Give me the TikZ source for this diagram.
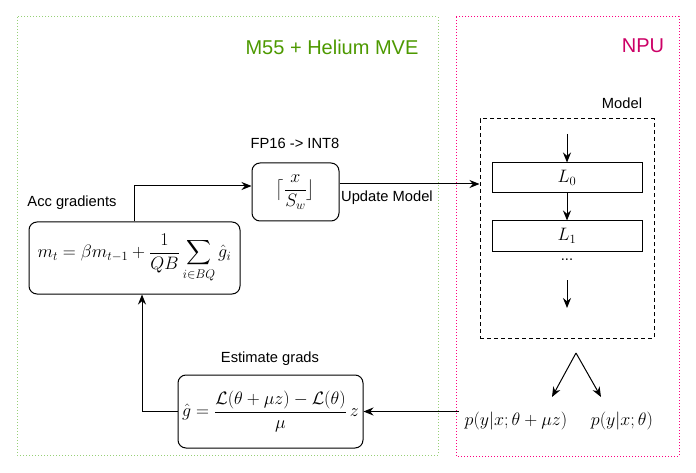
\RequirePackage{fix-cm}
\documentclass[tikz,border=0pt]{standalone}
\usepackage{amsmath}
\usepackage[no-math]{fontspec}
\setmainfont{Liberation Sans}
\usetikzlibrary{arrows.meta}
\definecolor{mvegreen}{HTML}{4D9900}
\definecolor{mveedge}{HTML}{97D077}
\definecolor{npupink}{HTML}{CC0066}
\definecolor{npuedge}{HTML}{FF0080}

\begin{document}
\begin{tikzpicture}[
  x=1pt,
  y=-1pt,
  every node/.style={font=\fontsize{14.7}{17}\selectfont, inner sep=0pt},
  mathtext/.style={font=\fontsize{18}{21}\selectfont},
  formbox/.style={draw, line width=1pt, rounded corners=8pt, mathtext},
  layerbox/.style={draw, line width=1pt, minimum width=150pt, minimum height=30pt, mathtext},
  arr/.style={-{Stealth[length=10pt,width=8pt]}, line width=1pt}
]
  \useasboundingbox (0,0) rectangle (696,473);

  % regions
  \draw[mveedge, line width=1pt, dash pattern=on 1pt off 2pt] (17,17) rectangle (438,455);
  \draw[npuedge, line width=1pt, dash pattern=on 1pt off 2pt] (456,17) rectangle (679,456);
  \node[mvegreen, font=\fontsize{20}{24}\selectfont] (mvetitle) at (332,47) {M55 + Helium MVE};
  \node[npupink, font=\fontsize{20}{24}\selectfont] (nputitle) at (643,46) {NPU};

  % host side
  \node[formbox, minimum width=211pt, minimum height=72pt] (acc) at (134.5,258)
    {$\displaystyle m_t=\beta m_{t-1}+\frac{1}{QB}\sum_{i\in BQ}\hat{g}_i$};
  \node (acclbl) at (72,203) {Acc gradients};
  \node[formbox, minimum width=87pt, minimum height=58pt] (quant) at (295.5,192)
    {$\displaystyle \bigl\lceil\frac{x}{S_w}\bigr\rfloor$};
  \node (quantlbl) at (295,143) {FP16 -> INT8};
  \node[formbox, minimum width=185pt, minimum height=73pt] (grad) at (270.5,411.5)
    {$\displaystyle \hat{g}=\frac{\mathcal{L}(\theta+\mu z)-\mathcal{L}(\theta)}{\mu}\,z$};
  \node (gradlbl) at (270,359) {Estimate grads};
  \node[anchor=west] (updlbl) at (341,198) {Update Model};

  % npu side
  \node[draw, line width=1pt, dash pattern=on 4pt off 3pt, minimum width=174pt, minimum height=219pt] (model) at (567,228.5) {};
  \node (modellbl) at (622,103) {Model};
  \node[layerbox] (l0) at (567,178) {$L_0$};
  \node[layerbox] (l1) at (567,236) {$L_1$};
  \node (dots) at (567,260) {...};
  \coordinate (in0) at (567,134);
  \coordinate (outtop) at (567,280);
  \coordinate (outbot) at (567,308);
  \coordinate (fork) at (576,353);
  \coordinate (forkl) at (552,397);
  \coordinate (forkr) at (601,397);
  \node[mathtext] (pmu) at (516,421) {$p(y|x;\theta+\mu z)$};
  \node[mathtext] (pzero) at (622,421) {$p(y|x;\theta)$};

  % connectors
  \draw[arr] (acc.north) |- ([yshift=6pt]quant.west);
  \draw[arr] ([yshift=8pt]quant.east) -- ([yshift=8pt]quant.east -| model.west);
  \draw[arr] (in0) -- (l0.north);
  \draw[arr] (l0.south) -- (l1.north);
  \draw[arr] (outtop) -- (outbot);
  \draw[arr] (fork) -- (forkl);
  \draw[arr] (fork) -- (forkr);
  \draw[arr] ([xshift=-6pt]pmu.west |- grad.east) -- (grad.east);
  \draw[arr] (grad.west) -| ([xshift=7.5pt]acc.south);
\end{tikzpicture}
\end{document}
